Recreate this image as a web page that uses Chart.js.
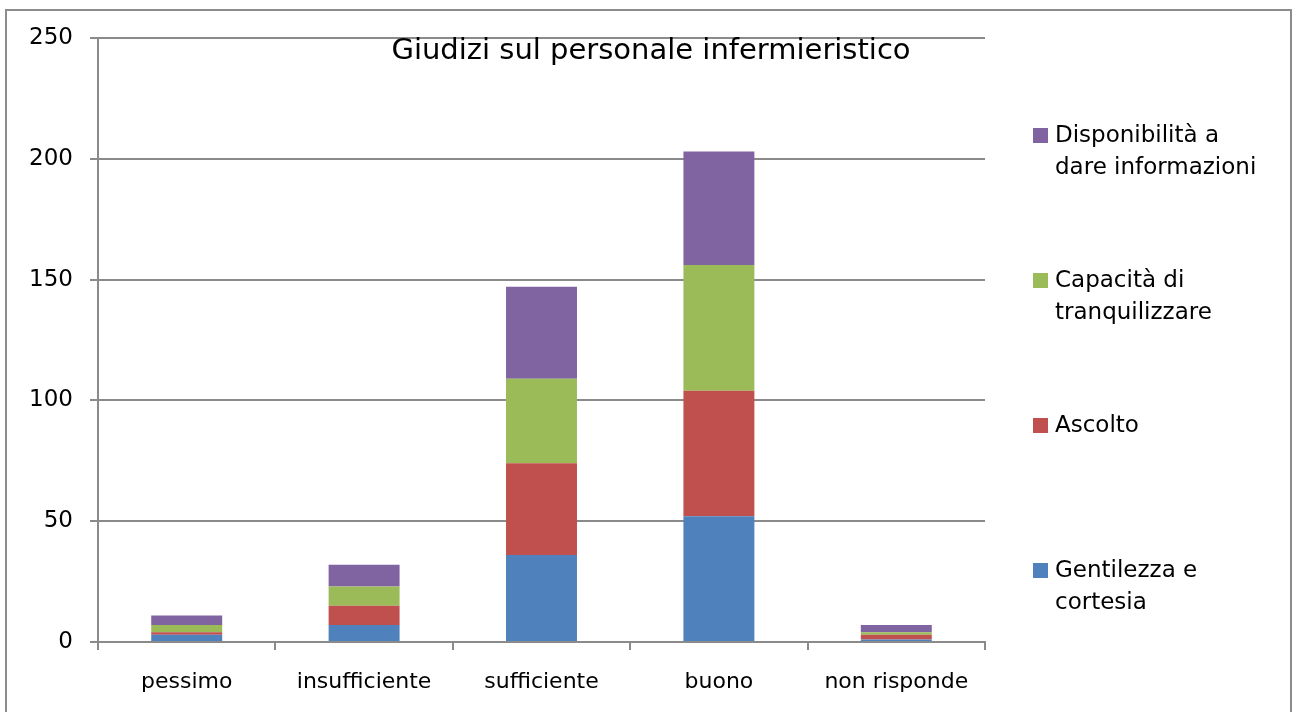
<!DOCTYPE html>
<html>
<head>
<meta charset="utf-8">
<script src="https://cdn.jsdelivr.net/npm/chart.js@4/dist/chart.umd.min.js"></script>
<style>
  html, body { margin: 0; padding: 0; background: #fff; }
  #wrap { width: 1294px; height: 712px; position: relative; }
</style>
</head>
<body>
<div id="wrap"><canvas id="chart" width="1294" height="712"></canvas></div>
<script>
// Data
const categories = ['pessimo', 'insufficiente', 'sufficiente', 'buono', 'non risponde'];
const gentilezza = [3, 7, 36, 52, 1];
const ascolto = [1, 8, 38, 52, 2];
const capacita = [3, 8, 35, 52, 1];
const disponibilita = [4, 9, 38, 47, 3];
const seriesLabels = [
  ['Gentilezza e', 'cortesia'],
  ['Ascolto'],
  ['Capacità di', 'tranquilizzare'],
  ['Disponibilità a', 'dare informazioni']
];
const chartTitle = 'Giudizi sul personale infermieristico';

const FONT = '"DejaVu Sans", sans-serif';
const GRID = '#8a8a8a';

// title drawn inside plot, legend on the right, border round the whole thing
const decorations = {
  id: 'decorations',
  afterDraw(chart) {
    const ctx = chart.ctx;
    const area = chart.chartArea;
    ctx.save();
    ctx.strokeStyle = '#8c8c8c';
    ctx.lineWidth = 2;
    ctx.strokeRect(6, 10, 1285, 712);

    ctx.fillStyle = '#000';
    ctx.font = '29px ' + FONT;
    ctx.textAlign = 'center';
    ctx.textBaseline = 'middle';
    ctx.fillText(chartTitle, 651, 51);

    // legend, top series first
    ctx.textAlign = 'left';
    ctx.font = '23px ' + FONT;
    const sets = chart.data.datasets.slice().reverse();
    sets.forEach((ds, i) => {
      const y = 135 + i * 145;
      ctx.fillStyle = ds.backgroundColor;
      ctx.fillRect(area.right + 48, y - 7, 15, 15);
      ctx.fillStyle = '#000';
      const lines = Array.isArray(ds.label) ? ds.label : [ds.label];
      lines.forEach((t, j) => ctx.fillText(t, area.right + 70, y + 1 + j * 32));
    });
    ctx.restore();
  }
};

const colors = ['#4F81BD', '#C0504D', '#9BBB59', '#8064A2'];
const values = [gentilezza, ascolto, capacita, disponibilita];

new Chart(document.getElementById('chart'), {
  type: 'bar',
  data: {
    labels: categories,
    datasets: values.map((v, i) => ({
      label: seriesLabels[i],
      data: v,
      backgroundColor: colors[i],
      borderWidth: 0,
      categoryPercentage: 1,
      barPercentage: 0.4
    }))
  },
  options: {
    responsive: false,
    animation: false,
    layout: { padding: { top: 38, right: 309, left: 0, bottom: 0 } },
    plugins: {
      legend: { display: false },
      title: { display: false },
      tooltip: { enabled: false }
    },
    scales: {
      x: {
        stacked: true,
        afterFit: s => { s.height = 70; },
        grid: { offset: true, drawOnChartArea: false, drawTicks: true, tickLength: 8, color: GRID, lineWidth: 2 },
        border: { color: GRID, width: 2 },
        ticks: { color: '#000', font: { family: FONT, size: 22 }, padding: 19 }
      },
      y: {
        stacked: true,
        min: 0,
        max: 250,
        afterFit: s => { s.width = 98; },
        grid: { color: GRID, lineWidth: 2, tickLength: 8 },
        border: { color: GRID, width: 2 },
        ticks: { stepSize: 50, color: '#000', font: { family: FONT, size: 23 }, padding: 17 }
      }
    }
  },
  plugins: [decorations]
});
</script>
</body>
</html>
